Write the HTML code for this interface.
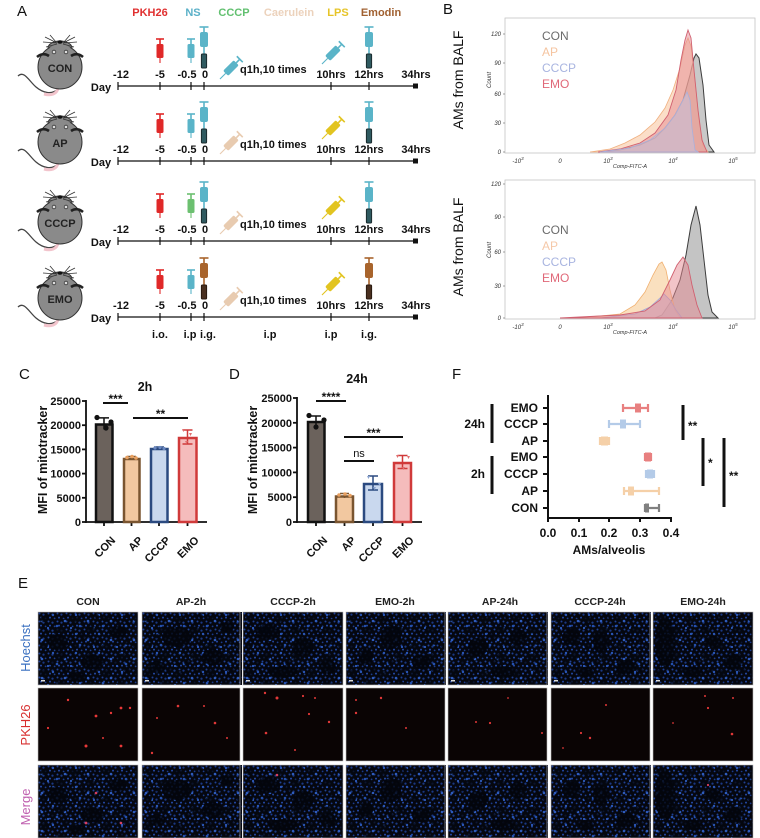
<!DOCTYPE html>
<html><head><meta charset="utf-8"><style>
html,body{margin:0;padding:0;background:#fff;}
svg{display:block;font-family:"Liberation Sans",Arial,sans-serif;}
.b{font-weight:bold;}
</style></head><body>
<svg width="760" height="838" viewBox="0 0 760 838" xmlns="http://www.w3.org/2000/svg">
<defs>
  <g id="vs">
    <line x1="-4" y1="0" x2="4" y2="0" stroke="currentColor" stroke-width="1.6"/>
    <line x1="0" y1="0" x2="0" y2="6" stroke="currentColor" stroke-width="1.6"/>
    <rect x="-3.5" y="5" width="7" height="14" rx="1.5" fill="currentColor"/>
    <line x1="0" y1="19" x2="0" y2="24" stroke="currentColor" stroke-width="1.1"/>
  </g>
  <g id="bsC">
    <line x1="-4.5" y1="0" x2="4.5" y2="0" stroke="#5ab4c8" stroke-width="1.6"/>
    <line x1="0" y1="0" x2="0" y2="6" stroke="#5ab4c8" stroke-width="1.6"/>
    <rect x="-4" y="5" width="8" height="15" rx="2" fill="#5ab4c8"/>
    <line x1="0" y1="20" x2="0" y2="27" stroke="#5ab4c8" stroke-width="1.6"/>
    <rect x="-2.6" y="27" width="5.2" height="14" rx="1" fill="#2f5a60" stroke="#1b2b2e" stroke-width="1"/>
  </g>
  <g id="bsE">
    <line x1="-4.5" y1="0" x2="4.5" y2="0" stroke="#a8642c" stroke-width="1.6"/>
    <line x1="0" y1="0" x2="0" y2="6" stroke="#a8642c" stroke-width="1.6"/>
    <rect x="-4" y="5" width="8" height="15" rx="2" fill="#a8642c"/>
    <line x1="0" y1="20" x2="0" y2="27" stroke="#a8642c" stroke-width="1.6"/>
    <rect x="-2.6" y="27" width="5.2" height="14" rx="1" fill="#4a3020" stroke="#2a1a10" stroke-width="1"/>
  </g>
  <g id="ds">
    <g transform="rotate(-45)">
      <line x1="-17" y1="0" x2="-9" y2="0" stroke="currentColor" stroke-width="1.1"/>
      <rect x="-9" y="-3.6" width="15" height="7.2" rx="1.6" fill="currentColor"/>
      <line x1="6" y1="0" x2="11" y2="0" stroke="currentColor" stroke-width="1.6"/>
      <line x1="11" y1="-4.2" x2="11" y2="4.2" stroke="currentColor" stroke-width="1.6"/>
    </g>
  </g>
  <g id="mouse">
    <path d="M-42,9 C-36,3 -31,14 -24,20 S-8,28 -2,22" fill="none" stroke="#444" stroke-width="1.3"/>
    <path d="M-2,21 C-3,27 -9,29 -16,27" fill="none" stroke="#f2c4cc" stroke-width="3"/>
    <ellipse cx="0" cy="-19" rx="12" ry="7" fill="#8a8a8a" stroke="#333" stroke-width="1"/>
    <circle cx="0" cy="0" r="22" fill="#8a8a8a" stroke="#333" stroke-width="1"/>
    <ellipse cx="0" cy="-16" rx="11.5" ry="7" fill="#8a8a8a"/>
    <path d="M-23,-10 Q-17,-15 -11,-11" fill="none" stroke="#222" stroke-width="2.6"/>
    <path d="M23,-10 Q17,-15 11,-11" fill="none" stroke="#222" stroke-width="2.6"/>
    <circle cx="-6" cy="-15" r="1.8" fill="#ddd" stroke="#333" stroke-width="0.8"/>
    <circle cx="6" cy="-15" r="1.8" fill="#ddd" stroke="#333" stroke-width="0.8"/>
    <ellipse cx="0" cy="-25" rx="2.6" ry="1.8" fill="#111"/>
    <g stroke="#333" stroke-width="0.8">
      <line x1="-3" y1="-24" x2="-15" y2="-30"/><line x1="-3" y1="-24" x2="-17" y2="-25"/><line x1="-3" y1="-23" x2="-14" y2="-20"/><line x1="-4" y1="-25" x2="-10" y2="-32"/>
      <line x1="3" y1="-24" x2="15" y2="-30"/><line x1="3" y1="-24" x2="17" y2="-25"/><line x1="3" y1="-23" x2="14" y2="-20"/><line x1="4" y1="-25" x2="10" y2="-32"/>
    </g>
  </g>
  <g id="tl">
    <line x1="118" y1="86" x2="415" y2="86" stroke="#111" stroke-width="1.2"/>
    <g stroke="#111" stroke-width="1.2">
      <line x1="118" y1="82" x2="118" y2="90"/><line x1="160" y1="82" x2="160" y2="90"/>
      <line x1="191" y1="82" x2="191" y2="90"/><line x1="204" y1="82" x2="204" y2="90"/>
      <line x1="331" y1="82" x2="331" y2="90"/><line x1="369" y1="82" x2="369" y2="90"/>
    </g>
    <rect x="413" y="83.5" width="5" height="5" fill="#111"/>
    <g class="b" font-size="11" fill="#111" text-anchor="middle">
      <text x="121" y="78">-12</text><text x="160" y="78">-5</text><text x="187" y="78">-0.5</text>
      <text x="205" y="78">0</text><text x="331" y="78">10hrs</text><text x="369" y="78">12hrs</text>
      <text x="416" y="78">34hrs</text>
      <text x="101" y="91">Day</text>
    </g>
    <text class="b" x="240" y="73" font-size="11" fill="#111">q1h,10 times</text>
  </g>
  <pattern id="hb" width="9" height="8" patternUnits="userSpaceOnUse">
    <circle cx="1.5" cy="1.5" r="1.0" fill="#1f4094"/>
    <circle cx="5.5" cy="2.6" r="1.1" fill="#1a3884"/>
    <circle cx="3" cy="5.6" r="1.0" fill="#2448a4"/>
    <circle cx="7.6" cy="6.4" r="0.9" fill="#1c3c8c"/>
  </pattern>
  <pattern id="hb2" width="23" height="19" patternUnits="userSpaceOnUse">
    <circle cx="4" cy="9" r="1.3" fill="#2f5cbc"/>
    <circle cx="15" cy="3" r="1.2" fill="#2a56b4"/>
    <circle cx="19" cy="14" r="1.3" fill="#2450ac"/>
    <circle cx="10" cy="16" r="1.1" fill="#2f5cbc"/>
  </pattern>
  <pattern id="hv" width="31" height="27" patternUnits="userSpaceOnUse">
    <ellipse cx="6" cy="7" rx="4" ry="3" fill="#04060e" opacity="0.75"/>
    <ellipse cx="22" cy="18" rx="5" ry="3.5" fill="#04060e" opacity="0.75"/>
    <ellipse cx="14" cy="24" rx="3" ry="2.5" fill="#04060e" opacity="0.7"/>
    <ellipse cx="27" cy="4" rx="3" ry="2" fill="#04060e" opacity="0.7"/>
  </pattern>
  <g id="hbase">
    <rect width="100" height="73" fill="#05070f"/>
    <rect width="100" height="73" fill="url(#hb)"/>
    <rect width="100" height="73" fill="url(#hb2)"/>
    <rect width="100" height="73" fill="url(#hv)"/>
  </g>
</defs>

<!-- ================= Panel A ================= -->
<text x="17" y="16" font-size="15" fill="#111">A</text>
<g class="b" font-size="11" text-anchor="middle">
  <text x="150" y="16" fill="#e03030">PKH26</text>
  <text x="193" y="16" fill="#5ab0c8">NS</text>
  <text x="234" y="16" fill="#62c070">CCCP</text>
  <text x="289" y="16" fill="#ecd2bc">Caerulein</text>
  <text x="338" y="16" fill="#e6c428">LPS</text>
  <text x="381" y="16" fill="#a06030">Emodin</text>
</g>

<g transform="translate(0,0)">
  <use href="#tl"/>
  <g transform="translate(60,67)"><use href="#mouse"/><text class="b" x="0" y="5" font-size="11" text-anchor="middle" fill="#222">CON</text></g>
  <use href="#vs" x="160" y="39" color="#e02828"/>
  <use href="#vs" x="191" y="39" color="#5ab4c8"/>
  <use href="#bsC" x="204" y="27"/>
  <use href="#bsC" x="369" y="27"/>
  <use href="#ds" x="232" y="67" color="#5ab4c8"/>
  <use href="#ds" x="334" y="52" color="#5ab4c8"/>
</g>
<g transform="translate(0,75)">
  <use href="#tl"/>
  <g transform="translate(60,67)"><use href="#mouse"/><text class="b" x="0" y="5" font-size="11" text-anchor="middle" fill="#222">AP</text></g>
  <use href="#vs" x="160" y="39" color="#e02828"/>
  <use href="#vs" x="191" y="39" color="#5ab4c8"/>
  <use href="#bsC" x="204" y="27"/>
  <use href="#bsC" x="369" y="27"/>
  <use href="#ds" x="232" y="67" color="#e8cbb0"/>
  <use href="#ds" x="334" y="52" color="#e2c420"/>
</g>
<g transform="translate(0,155)">
  <use href="#tl"/>
  <g transform="translate(60,67)"><use href="#mouse"/><text class="b" x="0" y="5" font-size="11" text-anchor="middle" fill="#222">CCCP</text></g>
  <use href="#vs" x="160" y="39" color="#e02828"/>
  <use href="#vs" x="191" y="39" color="#6cc070"/>
  <use href="#bsC" x="204" y="27"/>
  <use href="#bsC" x="369" y="27"/>
  <use href="#ds" x="232" y="67" color="#e8cbb0"/>
  <use href="#ds" x="334" y="52" color="#e2c420"/>
</g>
<g transform="translate(0,231)">
  <use href="#tl"/>
  <g transform="translate(60,67)"><use href="#mouse"/><text class="b" x="0" y="5" font-size="11" text-anchor="middle" fill="#222">EMO</text></g>
  <use href="#vs" x="160" y="39" color="#e02828"/>
  <use href="#vs" x="191" y="39" color="#5ab4c8"/>
  <use href="#bsE" x="204" y="27"/>
  <use href="#bsE" x="369" y="27"/>
  <use href="#ds" x="232" y="67" color="#e8cbb0"/>
  <use href="#ds" x="334" y="52" color="#e2c420"/>
</g>
<g class="b" font-size="11" fill="#111" text-anchor="middle">
  <text x="160" y="338">i.o.</text><text x="190" y="338">i.p</text><text x="208" y="338">i.g.</text>
  <text x="270" y="338">i.p</text><text x="331" y="338">i.p</text><text x="369" y="338">i.g.</text>
</g>

<!-- ================= Panel B ================= -->
<text x="443" y="14" font-size="15" fill="#111">B</text>
<rect x="505" y="18" width="250" height="135" fill="none" stroke="#c4c4c4" stroke-width="0.8"/>
<path d="M600,152 L620,150 L640,145 L655,138 L665,128 L675,115 L683,100 L690,75 L694,58 L696,54 L699,58 L703,85 L706,120 L709,145 L714,152 Z" fill="#9c9c9c" fill-opacity="0.55" stroke="#3c3c3c" stroke-width="1"/>
<path d="M590,152 L610,149 L625,143 L640,135 L655,122 L665,108 L673,90 L680,68 L685,45 L688,38 L691,46 L695,80 L699,120 L703,145 L708,152 Z" fill="#f7c39a" fill-opacity="0.55" stroke="#f0b080" stroke-width="0.8"/>
<path d="M598,152 L620,149 L640,143 L655,133 L668,115 L676,90 L681,60 L685,40 L688,30 L691,38 L694,70 L698,110 L702,140 L707,152 Z" fill="#e58a92" fill-opacity="0.5" stroke="#d06070" stroke-width="0.9"/>
<path d="M600,152 L630,148 L650,140 L665,128 L675,115 L683,100 L687,92 L690,100 L692,128 L695,150 L698,152 Z" fill="#c4c4e4" fill-opacity="0.5" stroke="#a8b0dc" stroke-width="0.8"/>
<g font-size="12"><text x="542" y="40" fill="#6b6b6b">CON</text><text x="542" y="56" fill="#f5c4a0">AP</text><text x="542" y="72" fill="#a8b4e0">CCCP</text><text x="542" y="88" fill="#e06878">EMO</text></g>
<g font-size="6" font-style="italic" fill="#333" text-anchor="end">
  <text x="501" y="36">120</text><text x="501" y="65">90</text><text x="501" y="96">60</text><text x="501" y="125">30</text><text x="501" y="154">0</text>
</g>
<g stroke="#666" stroke-width="0.6"><line x1="503" y1="34" x2="505" y2="34"/><line x1="503" y1="63" x2="505" y2="63"/><line x1="503" y1="94" x2="505" y2="94"/><line x1="503" y1="123" x2="505" y2="123"/><line x1="503" y1="152" x2="505" y2="152"/></g>
<g font-size="6" font-style="italic" fill="#333" text-anchor="middle">
  <text x="518" y="163">-10<tspan dy="-3" font-size="4.5">3</tspan></text><text x="560" y="163">0</text>
  <text x="608" y="163">10<tspan dy="-3" font-size="4.5">3</tspan></text><text x="673" y="163">10<tspan dy="-3" font-size="4.5">4</tspan></text>
  <text x="733" y="163">10<tspan dy="-3" font-size="4.5">5</tspan></text>
  <text x="630" y="168" font-size="5.5">Comp-FITC-A</text>
</g>
<text transform="translate(491,80) rotate(-90)" font-size="6" font-style="italic" fill="#333" text-anchor="middle">Count</text>
<text transform="translate(463,80) rotate(-90)" font-size="14" fill="#111" text-anchor="middle">AMs from BALF</text>

<rect x="505" y="180" width="250" height="139" fill="none" stroke="#c4c4c4" stroke-width="0.8"/>
<path d="M655,318 L662,315 L672,300 L680,280 L686,255 L691,225 L696,206 L700,225 L704,260 L708,295 L712,312 L718,318 Z" fill="#9c9c9c" fill-opacity="0.6" stroke="#3c3c3c" stroke-width="1"/>
<path d="M570,318 L600,316 L620,314 L635,305 L645,292 L653,275 L659,264 L662,262 L666,270 L670,290 L675,310 L680,318 Z" fill="#f7cc94" fill-opacity="0.6" stroke="#f0b070" stroke-width="0.8"/>
<path d="M600,318 L635,314 L650,307 L660,298 L664,294 L670,300 L676,310 L682,318 Z" fill="#b8b8e4" fill-opacity="0.55" stroke="#a0a8d8" stroke-width="0.8"/>
<path d="M560,318 L600,316 L620,315 L645,311 L660,300 L670,280 L677,265 L683,257 L688,265 L692,285 L697,305 L702,318 Z" fill="#e58a92" fill-opacity="0.5" stroke="#d06070" stroke-width="0.9"/>
<g font-size="12"><text x="542" y="234" fill="#6b6b6b">CON</text><text x="542" y="250" fill="#f5c8a8">AP</text><text x="542" y="266" fill="#a8b4e0">CCCP</text><text x="542" y="282" fill="#e06878">EMO</text></g>
<g font-size="6" font-style="italic" fill="#333" text-anchor="end">
  <text x="501" y="186">120</text><text x="501" y="219">90</text><text x="501" y="254">60</text><text x="501" y="288">30</text><text x="501" y="320">0</text>
</g>
<g stroke="#666" stroke-width="0.6"><line x1="503" y1="184" x2="505" y2="184"/><line x1="503" y1="217" x2="505" y2="217"/><line x1="503" y1="252" x2="505" y2="252"/><line x1="503" y1="286" x2="505" y2="286"/><line x1="503" y1="318" x2="505" y2="318"/></g>
<g font-size="6" font-style="italic" fill="#333" text-anchor="middle">
  <text x="518" y="329">-10<tspan dy="-3" font-size="4.5">3</tspan></text><text x="560" y="329">0</text>
  <text x="608" y="329">10<tspan dy="-3" font-size="4.5">3</tspan></text><text x="673" y="329">10<tspan dy="-3" font-size="4.5">4</tspan></text>
  <text x="733" y="329">10<tspan dy="-3" font-size="4.5">5</tspan></text>
  <text x="630" y="334" font-size="5.5">Comp-FITC-A</text>
</g>
<text transform="translate(491,250) rotate(-90)" font-size="6" font-style="italic" fill="#333" text-anchor="middle">Count</text>
<text transform="translate(463,247) rotate(-90)" font-size="14" fill="#111" text-anchor="middle">AMs from BALF</text>

<!-- ================= Panel C ================= -->
<text x="19" y="379" font-size="15" fill="#111">C</text>
<text class="b" x="145" y="391" font-size="12.5" text-anchor="middle" fill="#111">2h</text>
<text class="b" transform="translate(47,460) rotate(-90)" font-size="12.5" text-anchor="middle" fill="#111">MFI of mitotracker</text>
<g stroke="#111" stroke-width="1.8">
  <line x1="86" y1="400" x2="86" y2="523"/><line x1="85" y1="522" x2="207" y2="522"/>
  <line x1="82" y1="522" x2="86" y2="522"/><line x1="82" y1="497.8" x2="86" y2="497.8"/><line x1="82" y1="473.6" x2="86" y2="473.6"/>
  <line x1="82" y1="449.4" x2="86" y2="449.4"/><line x1="82" y1="425.2" x2="86" y2="425.2"/><line x1="82" y1="401" x2="86" y2="401"/>
  <line x1="104" y1="522" x2="104" y2="526"/><line x1="131.5" y1="522" x2="131.5" y2="526"/><line x1="159" y1="522" x2="159" y2="526"/><line x1="187.5" y1="522" x2="187.5" y2="526"/>
</g>
<g class="b" font-size="11" fill="#111" text-anchor="end">
  <text x="81" y="526">0</text><text x="81" y="501.8">5000</text><text x="81" y="477.6">10000</text>
  <text x="81" y="453.4">15000</text><text x="81" y="429.2">20000</text><text x="81" y="405">25000</text>
</g>
<rect x="96" y="424.5" width="16.5" height="97.5" fill="#6b625c" stroke="#111" stroke-width="2.5"/>
<rect x="124" y="459" width="15.5" height="63" fill="#f2c8a0" stroke="#7a5530" stroke-width="2.5"/>
<rect x="151" y="449" width="16.5" height="73" fill="#c9d8ee" stroke="#2b4a80" stroke-width="2.5"/>
<rect x="179" y="438" width="17.5" height="84" fill="#f5bcbc" stroke="#d03a3a" stroke-width="2.5"/>
<g stroke-width="1.5" fill="none">
  <path d="M104,417.9 V429.5 M99,417.9 H109" stroke="#111"/>
  <path d="M131.5,456.5 V459.5 M127,456.5 H136" stroke="#7a5530"/>
  <path d="M159,447 V449.5 M154,447 H164" stroke="#2b4a80"/>
  <path d="M187.5,430 V444 M182.5,430 H192.5 M182.5,444 H192.5" stroke="#d03a3a"/>
</g>
<circle cx="97" cy="417.5" r="2.6" fill="#111"/><circle cx="106" cy="428" r="2.6" fill="#111"/><circle cx="111" cy="422" r="2.6" fill="#111"/>
<circle cx="127" cy="457.5" r="1.8" fill="#e8a060"/><circle cx="132" cy="456.5" r="1.8" fill="#e8a060"/><circle cx="136" cy="458" r="1.8" fill="#e8a060"/>
<circle cx="155" cy="448" r="1.6" fill="#6b88c0"/><circle cx="160" cy="447.5" r="1.6" fill="#6b88c0"/><circle cx="164" cy="448.5" r="1.6" fill="#6b88c0"/>
<path d="M182,429 l3,0 l-1.5,3 z M189,433 l3,0 l-1.5,3 z M185,441 l3,0 l-1.5,3 z" fill="#e07070"/>
<g stroke="#111" stroke-width="2"><line x1="103" y1="403" x2="128" y2="403"/><line x1="133" y1="418" x2="188" y2="418"/></g>
<g class="b" font-size="12" fill="#111" text-anchor="middle"><text x="115.5" y="403">***</text><text x="160.5" y="418">**</text></g>
<g class="b" font-size="11" fill="#111" text-anchor="end">
  <text transform="translate(116,541) rotate(-45)">CON</text>
  <text transform="translate(143.5,541) rotate(-45)">AP</text>
  <text transform="translate(171,541) rotate(-45)">CCCP</text>
  <text transform="translate(199.5,541) rotate(-45)">EMO</text>
</g>

<!-- ================= Panel D ================= -->
<text x="229" y="379" font-size="15" fill="#111">D</text>
<text class="b" x="357" y="383" font-size="12.5" text-anchor="middle" fill="#111">24h</text>
<text class="b" transform="translate(257,460) rotate(-90)" font-size="12.5" text-anchor="middle" fill="#111">MFI of mitotracker</text>
<g stroke="#111" stroke-width="1.8">
  <line x1="297" y1="397" x2="297" y2="523"/><line x1="296" y1="522" x2="422" y2="522"/>
  <line x1="293" y1="522" x2="297" y2="522"/><line x1="293" y1="497.2" x2="297" y2="497.2"/><line x1="293" y1="472.4" x2="297" y2="472.4"/>
  <line x1="293" y1="447.6" x2="297" y2="447.6"/><line x1="293" y1="422.8" x2="297" y2="422.8"/><line x1="293" y1="398" x2="297" y2="398"/>
  <line x1="316" y1="522" x2="316" y2="526"/><line x1="344.5" y1="522" x2="344.5" y2="526"/><line x1="373" y1="522" x2="373" y2="526"/><line x1="402.5" y1="522" x2="402.5" y2="526"/>
</g>
<g class="b" font-size="11" fill="#111" text-anchor="end">
  <text x="292" y="526">0</text><text x="292" y="501.2">5000</text><text x="292" y="476.4">10000</text>
  <text x="292" y="451.6">15000</text><text x="292" y="426.8">20000</text><text x="292" y="402">25000</text>
</g>
<rect x="308" y="422" width="16.5" height="100" fill="#6b625c" stroke="#111" stroke-width="2.5"/>
<rect x="336" y="496.5" width="17" height="25.5" fill="#f2c8a0" stroke="#7a5530" stroke-width="2.5"/>
<rect x="364" y="484" width="18" height="38" fill="#c9d8ee" stroke="#2b4a80" stroke-width="2.5"/>
<rect x="394" y="463" width="17" height="59" fill="#f5bcbc" stroke="#d03a3a" stroke-width="2.5"/>
<g stroke-width="1.5" fill="none">
  <path d="M316,416 V426 M311,416 H321" stroke="#111"/>
  <path d="M344.5,493.5 V498 M340,493.5 H349" stroke="#7a5530"/>
  <path d="M373,476 V490 M368,476 H378 M368,490 H378" stroke="#2b4a80"/>
  <path d="M402.5,455.5 V468.5 M397.5,455.5 H407.5 M397.5,468.5 H407.5" stroke="#d03a3a"/>
</g>
<circle cx="309" cy="415.5" r="2.6" fill="#111"/><circle cx="316" cy="427" r="2.6" fill="#111"/><circle cx="324" cy="420" r="2.6" fill="#111"/>
<circle cx="339" cy="495" r="1.8" fill="#e8a060"/><circle cx="345" cy="494" r="1.8" fill="#e8a060"/><circle cx="350" cy="495.5" r="1.8" fill="#e8a060"/>
<path d="M367,476 l3,0 l-1.5,3 z M373,487 l3,0 l-1.5,3 z M378,483 l3,0 l-1.5,3 z" fill="#8aa4d0"/>
<path d="M396,455 l3,0 l-1.5,3 z M402,467 l3,0 l-1.5,3 z M407,456 l3,0 l-1.5,3 z" fill="#e07070"/>
<g stroke="#111" stroke-width="2"><line x1="316" y1="401" x2="346" y2="401"/><line x1="344" y1="437" x2="403" y2="437"/><line x1="344" y1="461" x2="374" y2="461"/></g>
<g class="b" font-size="12" fill="#111" text-anchor="middle"><text x="331" y="401">****</text><text x="373.5" y="437">***</text></g>
<text x="359" y="457" font-size="11" text-anchor="middle" fill="#111">ns</text>
<g class="b" font-size="11" fill="#111" text-anchor="end">
  <text transform="translate(328,541) rotate(-45)">CON</text>
  <text transform="translate(356.5,541) rotate(-45)">AP</text>
  <text transform="translate(385,541) rotate(-45)">CCCP</text>
  <text transform="translate(414.5,541) rotate(-45)">EMO</text>
</g>

<!-- ================= Panel F ================= -->
<text x="452" y="379" font-size="15" fill="#111">F</text>
<g stroke="#111" stroke-width="2">
  <line x1="548" y1="395" x2="548" y2="519"/><line x1="547" y1="518" x2="672" y2="518"/>
  <line x1="548" y1="518" x2="548" y2="522"/><line x1="579" y1="518" x2="579" y2="522"/><line x1="609" y1="518" x2="609" y2="522"/><line x1="640" y1="518" x2="640" y2="522"/><line x1="671" y1="518" x2="671" y2="522"/>
  <line x1="543" y1="408" x2="548" y2="408"/><line x1="543" y1="424" x2="548" y2="424"/><line x1="543" y1="441" x2="548" y2="441"/><line x1="543" y1="457" x2="548" y2="457"/><line x1="543" y1="474" x2="548" y2="474"/><line x1="543" y1="491" x2="548" y2="491"/><line x1="543" y1="508" x2="548" y2="508"/>
</g>
<g class="b" font-size="12" fill="#111" text-anchor="end">
  <text x="538" y="412">EMO</text><text x="538" y="428">CCCP</text><text x="538" y="445">AP</text>
  <text x="538" y="461">EMO</text><text x="538" y="478">CCCP</text><text x="538" y="495">AP</text><text x="538" y="512">CON</text>
  <text x="485" y="428">24h</text><text x="485" y="478">2h</text>
</g>
<g class="b" font-size="12" fill="#111" text-anchor="middle">
  <text x="548" y="537">0.0</text><text x="579" y="537">0.1</text><text x="609" y="537">0.2</text><text x="640" y="537">0.3</text><text x="671" y="537">0.4</text>
  <text x="609" y="554">AMs/alveolis</text>
</g>
<rect x="490.5" y="404" width="3" height="39" fill="#111"/>
<rect x="490.5" y="456" width="3" height="38" fill="#111"/>
<g stroke-width="2.2" fill="none">
  <path d="M623,408 H648 M623,404 V412 M648,404 V412" stroke="#e88080"/>
  <path d="M609,424 H640 M609,420 V428 M640,420 V428" stroke="#b4cbe8"/>
  <path d="M600,441 H609 M600,437 V445 M609,437 V445" stroke="#f5d0a8"/>
  <path d="M645,457 H651 M645,453 V461 M651,453 V461" stroke="#e88080"/>
  <path d="M646,474 H654 M646,470 V478 M654,470 V478" stroke="#b4cbe8"/>
  <path d="M624,491 H659 M624,487 V495 M659,487 V495" stroke="#f5d0a8"/>
  <path d="M645,508 H659 M645,504 V512 M659,504 V512" stroke="#808080"/>
</g>
<rect x="635" y="403.5" width="6" height="9" fill="#e88080"/>
<rect x="620" y="419.5" width="6" height="9" fill="#b4cbe8"/>
<rect x="601" y="436.5" width="7" height="9" fill="#f5d0a8"/>
<rect x="645" y="452.5" width="6" height="9" fill="#e88080"/>
<rect x="647" y="469.5" width="6" height="9" fill="#b4cbe8"/>
<rect x="628" y="486.5" width="6" height="9" fill="#f5d0a8"/>
<rect x="645" y="503.5" width="4" height="9" fill="#808080"/>
<rect x="681.5" y="405" width="3" height="35" fill="#111"/>
<rect x="701.5" y="438" width="3" height="48" fill="#111"/>
<rect x="722.5" y="438" width="3" height="69" fill="#111"/>
<g class="b" font-size="12" fill="#111"><text x="688" y="430">**</text><text x="708" y="467">*</text><text x="729" y="480">**</text></g>

<!-- ================= Panel E ================= -->
<text x="18" y="588" font-size="15" fill="#111">E</text>
<g font-size="10.5" fill="#222" text-anchor="middle" style="font-weight:600">
  <text x="88" y="605">CON</text><text x="191" y="605">AP-2h</text><text x="293" y="605">CCCP-2h</text>
  <text x="395" y="605">EMO-2h</text><text x="500" y="605">AP-24h</text><text x="600" y="605">CCCP-24h</text><text x="703" y="605">EMO-24h</text>
</g>
<text transform="translate(30,648) rotate(-90)" font-size="13" fill="#3a70c0" text-anchor="middle">Hoechst</text>
<text transform="translate(30,725) rotate(-90)" font-size="13" fill="#d83030" text-anchor="middle">PKH26</text>
<text transform="translate(30,807) rotate(-90)" font-size="13" fill="#c060b0" text-anchor="middle">Merge</text>

<g transform="translate(38,612)"><use href="#hbase"/><g fill="#03050c" opacity="0.8"><ellipse cx="20" cy="30" rx="10" ry="8"/><ellipse cx="55" cy="50" rx="12" ry="7"/><ellipse cx="80" cy="20" rx="8" ry="6"/><ellipse cx="40" cy="65" rx="9" ry="5"/></g><rect x="3" y="68" width="4" height="1.5" fill="#ddd"/><rect width="100" height="73" fill="none" stroke="#bbb" stroke-width="0.6"/></g>
<g transform="translate(38,688)"><rect width="100" height="73" fill="#0a0404" stroke="#bbb" stroke-width="0.6"/><g fill="#e83838"><circle cx="30" cy="12" r="1.2"/><circle cx="58" cy="28" r="1.4"/><circle cx="73" cy="25" r="1.2"/><circle cx="83" cy="20" r="1.4"/><circle cx="10" cy="40" r="1.1"/><circle cx="48" cy="58" r="1.5"/><circle cx="83" cy="58" r="1.4"/><circle cx="65" cy="50" r="1"/><circle cx="92" cy="20" r="1.2"/></g></g>
<g transform="translate(38,765)"><use href="#hbase"/><g fill="#03050c" opacity="0.8"><ellipse cx="20" cy="30" rx="10" ry="8"/><ellipse cx="55" cy="50" rx="12" ry="7"/><ellipse cx="80" cy="20" rx="8" ry="6"/><ellipse cx="40" cy="65" rx="9" ry="5"/></g><g fill="#d84060"><circle cx="58" cy="28" r="1.3"/><circle cx="48" cy="58" r="1.4"/><circle cx="83" cy="58" r="1.3"/></g><rect width="100" height="73" fill="none" stroke="#bbb" stroke-width="0.6"/></g>

<g transform="translate(142,612)"><use href="#hbase"/><g fill="#03050c" opacity="0.8"><ellipse cx="35" cy="25" rx="15" ry="10"/><ellipse cx="70" cy="45" rx="10" ry="8"/><ellipse cx="15" cy="55" rx="8" ry="6"/><ellipse cx="85" cy="15" rx="7" ry="5"/></g><rect x="3" y="68" width="4" height="1.5" fill="#ddd"/><rect width="98" height="73" fill="none" stroke="#bbb" stroke-width="0.6"/></g>
<g transform="translate(142,688)"><rect width="98" height="73" fill="#0a0404" stroke="#bbb" stroke-width="0.6"/><g fill="#e03838"><circle cx="36" cy="18" r="1.3"/><circle cx="62" cy="18" r="1"/><circle cx="15" cy="30" r="1"/><circle cx="73" cy="35" r="1.3"/><circle cx="10" cy="65" r="1.2"/><circle cx="85" cy="50" r="1"/></g></g>
<g transform="translate(142,765)"><use href="#hbase"/><g fill="#03050c" opacity="0.8"><ellipse cx="35" cy="25" rx="15" ry="10"/><ellipse cx="70" cy="45" rx="10" ry="8"/><ellipse cx="15" cy="55" rx="8" ry="6"/><ellipse cx="85" cy="15" rx="7" ry="5"/></g><rect width="98" height="73" fill="none" stroke="#bbb" stroke-width="0.6"/></g>

<g transform="translate(243,612)"><use href="#hbase"/><g fill="#03050c" opacity="0.8"><ellipse cx="25" cy="20" rx="12" ry="8"/><ellipse cx="60" cy="35" rx="10" ry="9"/><ellipse cx="40" cy="60" rx="14" ry="6"/><ellipse cx="85" cy="55" rx="8" ry="7"/></g><rect x="3" y="68" width="4" height="1.5" fill="#ddd"/><rect width="100" height="73" fill="none" stroke="#bbb" stroke-width="0.6"/></g>
<g transform="translate(243,688)"><rect width="100" height="73" fill="#0a0404" stroke="#bbb" stroke-width="0.6"/><g fill="#e03838"><circle cx="22" cy="5" r="1.2"/><circle cx="34" cy="10" r="1.5"/><circle cx="60" cy="8" r="1.1"/><circle cx="72" cy="10" r="1"/><circle cx="66" cy="26" r="1.1"/><circle cx="86" cy="34" r="1.2"/><circle cx="23" cy="45" r="1.3"/><circle cx="52" cy="62" r="1"/></g></g>
<g transform="translate(243,765)"><use href="#hbase"/><g fill="#03050c" opacity="0.8"><ellipse cx="25" cy="20" rx="12" ry="8"/><ellipse cx="60" cy="35" rx="10" ry="9"/><ellipse cx="40" cy="60" rx="14" ry="6"/><ellipse cx="85" cy="55" rx="8" ry="7"/></g><g fill="#d84060"><circle cx="34" cy="10" r="1.3"/></g><rect width="100" height="73" fill="none" stroke="#bbb" stroke-width="0.6"/></g>

<g transform="translate(346,612)"><use href="#hbase"/><g fill="#03050c" opacity="0.8"><ellipse cx="45" cy="25" rx="10" ry="12"/><ellipse cx="75" cy="50" rx="9" ry="7"/><ellipse cx="20" cy="45" rx="7" ry="8"/></g><rect x="3" y="68" width="4" height="1.5" fill="#ddd"/><rect width="99" height="73" fill="none" stroke="#bbb" stroke-width="0.6"/></g>
<g transform="translate(346,688)"><rect width="99" height="73" fill="#0a0404" stroke="#bbb" stroke-width="0.6"/><g fill="#e03838"><circle cx="10" cy="12" r="1"/><circle cx="35" cy="10" r="1.2"/><circle cx="10" cy="25" r="1.2"/><circle cx="60" cy="40" r="1"/></g></g>
<g transform="translate(346,765)"><use href="#hbase"/><g fill="#03050c" opacity="0.8"><ellipse cx="45" cy="25" rx="10" ry="12"/><ellipse cx="75" cy="50" rx="9" ry="7"/><ellipse cx="20" cy="45" rx="7" ry="8"/></g><rect width="99" height="73" fill="none" stroke="#bbb" stroke-width="0.6"/></g>

<g transform="translate(448,612)"><use href="#hbase"/><g fill="#03050c" opacity="0.8"><ellipse cx="30" cy="35" rx="10" ry="9"/><ellipse cx="70" cy="25" rx="8" ry="8"/><ellipse cx="55" cy="60" rx="12" ry="6"/></g><rect x="3" y="68" width="4" height="1.5" fill="#ddd"/><rect width="99" height="73" fill="none" stroke="#bbb" stroke-width="0.6"/></g>
<g transform="translate(448,688)"><rect width="99" height="73" fill="#0a0404" stroke="#bbb" stroke-width="0.6"/><g fill="#e03838"><circle cx="28" cy="34" r="1"/><circle cx="42" cy="35" r="1.1"/><circle cx="94" cy="45" r="1"/><circle cx="60" cy="10" r="0.9"/></g></g>
<g transform="translate(448,765)"><use href="#hbase"/><g fill="#03050c" opacity="0.8"><ellipse cx="30" cy="35" rx="10" ry="9"/><ellipse cx="70" cy="25" rx="8" ry="8"/><ellipse cx="55" cy="60" rx="12" ry="6"/></g><rect width="99" height="73" fill="none" stroke="#bbb" stroke-width="0.6"/></g>

<g transform="translate(551,612)"><use href="#hbase"/><g fill="#03050c" opacity="0.8"><ellipse cx="20" cy="25" rx="9" ry="8"/><ellipse cx="50" cy="30" rx="8" ry="10"/><ellipse cx="75" cy="55" rx="10" ry="7"/><ellipse cx="35" cy="60" rx="7" ry="5"/></g><rect x="3" y="68" width="4" height="1.5" fill="#ddd"/><rect width="99" height="73" fill="none" stroke="#bbb" stroke-width="0.6"/></g>
<g transform="translate(551,688)"><rect width="99" height="73" fill="#0a0404" stroke="#bbb" stroke-width="0.6"/><g fill="#e03838"><circle cx="55" cy="17" r="1"/><circle cx="30" cy="45" r="1.1"/><circle cx="39" cy="50" r="1.2"/><circle cx="12" cy="60" r="0.9"/></g></g>
<g transform="translate(551,765)"><use href="#hbase"/><g fill="#03050c" opacity="0.8"><ellipse cx="20" cy="25" rx="9" ry="8"/><ellipse cx="50" cy="30" rx="8" ry="10"/><ellipse cx="75" cy="55" rx="10" ry="7"/><ellipse cx="35" cy="60" rx="7" ry="5"/></g><rect width="99" height="73" fill="none" stroke="#bbb" stroke-width="0.6"/></g>

<g transform="translate(653,612)"><use href="#hbase"/><g fill="#03050c" opacity="0.8"><ellipse cx="12" cy="30" rx="10" ry="25"/><ellipse cx="60" cy="30" rx="8" ry="6"/><ellipse cx="80" cy="50" rx="9" ry="8"/><ellipse cx="40" cy="60" rx="10" ry="5"/></g><rect x="3" y="68" width="4" height="1.5" fill="#ddd"/><rect width="100" height="73" fill="none" stroke="#bbb" stroke-width="0.6"/></g>
<g transform="translate(653,688)"><rect width="100" height="73" fill="#0a0404" stroke="#bbb" stroke-width="0.6"/><g fill="#e03838"><circle cx="52" cy="8" r="1"/><circle cx="55" cy="20" r="1.1"/><circle cx="80" cy="10" r="1"/><circle cx="20" cy="35" r="0.9"/><circle cx="79" cy="46" r="1.3"/></g></g>
<g transform="translate(653,765)"><use href="#hbase"/><g fill="#03050c" opacity="0.8"><ellipse cx="12" cy="30" rx="10" ry="25"/><ellipse cx="60" cy="30" rx="8" ry="6"/><ellipse cx="80" cy="50" rx="9" ry="8"/><ellipse cx="40" cy="60" rx="10" ry="5"/></g><g fill="#d84060"><circle cx="55" cy="20" r="1.1"/></g><rect width="100" height="73" fill="none" stroke="#bbb" stroke-width="0.6"/></g>
</svg>
</body></html>
